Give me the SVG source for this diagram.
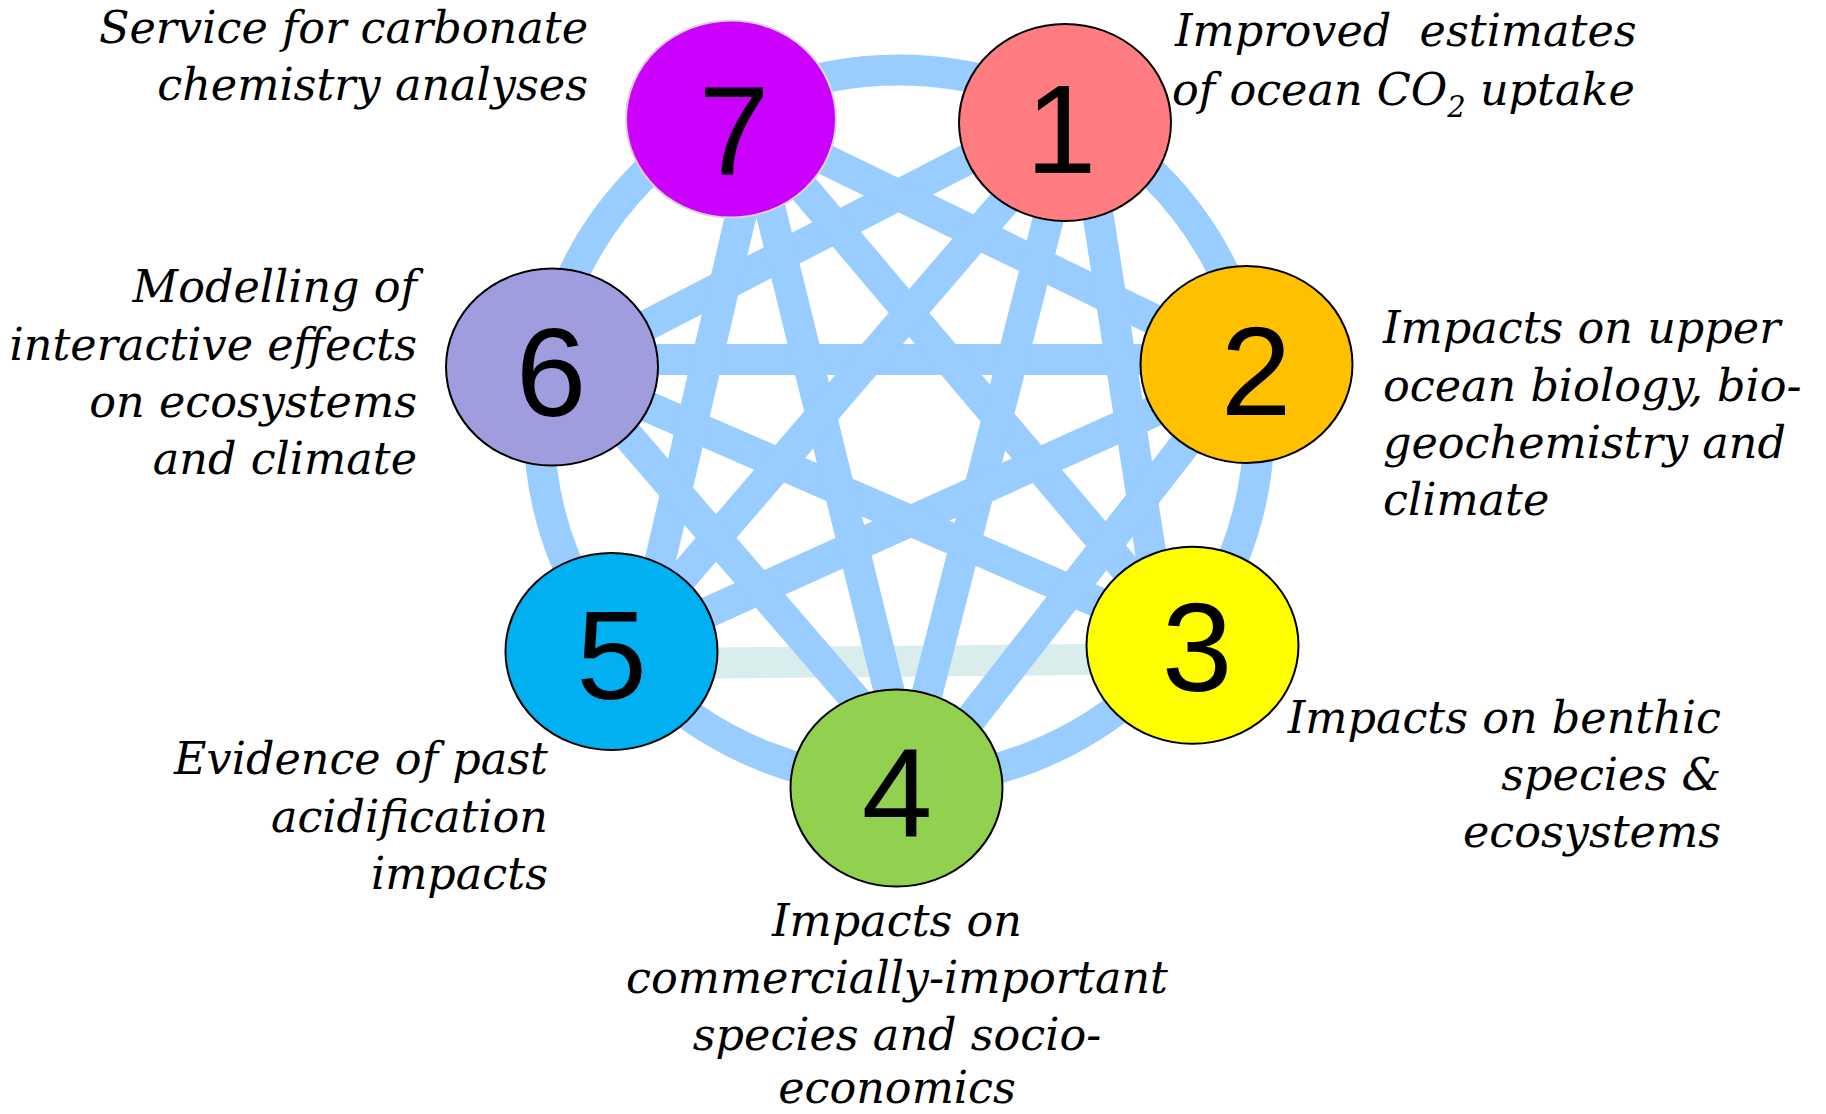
<svg xmlns="http://www.w3.org/2000/svg" width="1826" height="1114" viewBox="0 0 1826 1114">
<style>
.lbl{font-family:"DejaVu Serif","Liberation Serif",serif;font-style:italic;font-size:44.5px;fill:#000}
.num{font-family:"Liberation Sans",Arial,sans-serif;font-size:127px;fill:#000;text-anchor:middle}
.ln{stroke:#99CCFF;stroke-width:31;fill:none}
.pale{stroke:#DAEDED;stroke-width:31;fill:none}
.nd{stroke:#000;stroke-width:2}
</style>
<rect width="1826" height="1114" fill="#fff"/>
<g id="connectors">
<line class="pale" x1="611" y1="664" x2="1192" y2="658.5"/>
<ellipse class="ln" cx="899" cy="426" rx="360" ry="356"/>
<line class="ln" x1="560" y1="359.5" x2="1240" y2="359.5"/>
<line class="ln" x1="570" y1="365" x2="1055" y2="114"/>
<line class="ln" x1="740" y1="118" x2="1235" y2="359"/>
<line class="ln" x1="745" y1="119" x2="1190" y2="645"/>
<line class="ln" x1="1073" y1="122" x2="903" y2="788"/>
<line class="ln" x1="611" y1="656" x2="1246" y2="370"/>
<line class="ln" x1="552" y1="365" x2="1192" y2="643"/>
<line class="ln" x1="748" y1="119" x2="913" y2="788"/>
<line class="ln" x1="1073" y1="122" x2="619" y2="651"/>
<line class="ln" x1="762" y1="125" x2="639" y2="651"/>
<line class="ln" x1="1084" y1="125" x2="1165" y2="645"/>
<line class="ln" x1="1247" y1="365" x2="917" y2="788"/>
<line class="ln" x1="560" y1="357" x2="880" y2="728"/>
</g>
<g id="node7">
<ellipse cx="731" cy="119" rx="105" ry="98.5" fill="#CC00FF" stroke="#D6D6D6" stroke-width="2"/>
<text class="num" x="734" y="175">7</text>
<text class="lbl" text-anchor="end"><tspan x="588" y="43">Service for carbonate</tspan><tspan x="588" y="100">chemistry analyses</tspan></text>
</g>
<g id="node1">
<ellipse class="nd" cx="1065" cy="122.5" rx="106" ry="98.5" fill="#FF7C80"/>
<text class="num" x="1061" y="173">1</text>
<text class="lbl" xml:space="preserve"><tspan x="1175" y="46">Improved  estimates</tspan><tspan x="1172" y="105">of ocean CO<tspan font-size="29" dy="12">2</tspan><tspan dy="-12"> uptake</tspan></tspan></text>
</g>
<g id="node2">
<ellipse class="nd" cx="1246.5" cy="364.5" rx="106" ry="98.5" fill="#FFC000"/>
<text class="num" x="1256" y="415">2</text>
<text class="lbl"><tspan x="1383" y="343">Impacts on upper</tspan><tspan x="1383" y="401">ocean biology, bio-</tspan><tspan x="1383" y="458">geochemistry and</tspan><tspan x="1383" y="515">climate</tspan></text>
</g>
<g id="node3">
<ellipse class="nd" cx="1192.5" cy="645.3" rx="106" ry="98.5" fill="#FFFF00"/>
<text class="num" x="1197" y="691">3</text>
<text class="lbl" text-anchor="end"><tspan x="1721" y="733">Impacts on benthic</tspan><tspan x="1721" y="790">species &amp;</tspan><tspan x="1721" y="847">ecosystems</tspan></text>
</g>
<g id="node4">
<ellipse class="nd" cx="896.5" cy="788" rx="106" ry="98.5" fill="#92D050"/>
<text class="num" x="897" y="837">4</text>
<text class="lbl" text-anchor="middle"><tspan x="897" y="936">Impacts on</tspan><tspan x="897" y="993">commercially-important</tspan><tspan x="897" y="1050">species and socio-</tspan><tspan x="897" y="1103">economics</tspan></text>
</g>
<g id="node5">
<ellipse class="nd" cx="611.5" cy="651.5" rx="106" ry="98.5" fill="#00B0F0"/>
<text class="num" x="611.5" y="699">5</text>
<text class="lbl" text-anchor="end"><tspan x="548" y="774">Evidence of past</tspan><tspan x="548" y="832">acidification</tspan><tspan x="548" y="889">impacts</tspan></text>
</g>
<g id="node6">
<ellipse class="nd" cx="552" cy="367" rx="106" ry="98.5" fill="#9F9DDE"/>
<text class="num" x="551" y="416">6</text>
<text class="lbl" text-anchor="end"><tspan x="417" y="302">Modelling of</tspan><tspan x="417" y="360">interactive effects</tspan><tspan x="417" y="417">on ecosystems</tspan><tspan x="417" y="474">and climate</tspan></text>
</g>
</svg>
